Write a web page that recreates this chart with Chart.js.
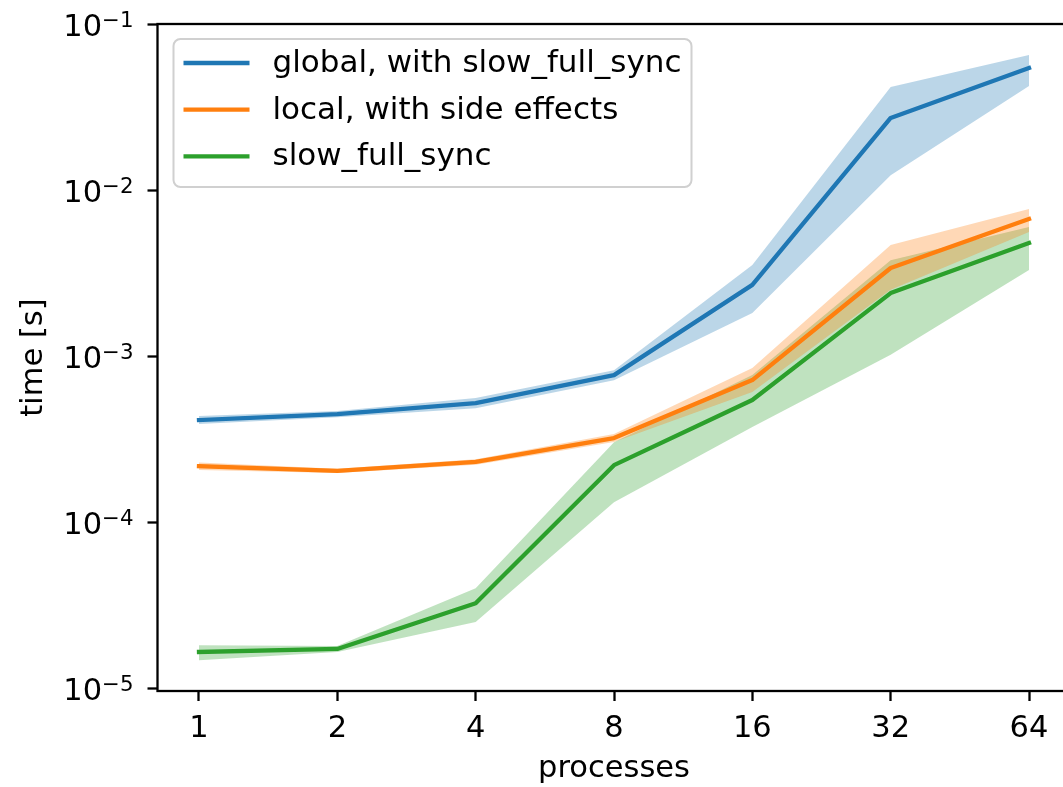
<!DOCTYPE html>
<html><head><meta charset="utf-8">
<script src="https://cdn.jsdelivr.net/npm/chart.js@4"></script>
<style>
html,body{margin:0;padding:0;background:#fff;overflow:hidden;width:1063px;height:787px}
#wrap{position:absolute;left:0;top:0;width:1080px;height:787px}
</style>
</head><body><div id="wrap"><canvas id="c" width="1080" height="787"></canvas></div>
<script>
// ---- data ----
const processes = [1, 2, 4, 8, 16, 32, 64];
const yTickValues = [1e-5, 1e-4, 1e-3, 1e-2, 1e-1];
const yTickExponents = ['\u22125', '\u22124', '\u22123', '\u22122', '\u22121'];
const seriesNames = ['global, with slow_full_sync', 'local, with side effects', 'slow_full_sync'];

const globalMean = [4.13e-4, 4.49e-4, 5.22e-4, 7.70e-4, 2.69e-3, 2.72e-2, 5.43e-2];
const globalLow  = [3.91e-4, 4.30e-4, 4.87e-4, 7.18e-4, 1.82e-3, 1.23e-2, 4.24e-2];
const globalHigh = [4.37e-4, 4.68e-4, 5.60e-4, 8.25e-4, 3.54e-3, 4.18e-2, 6.50e-2];

const localMean = [2.18e-4, 2.04e-4, 2.31e-4, 3.22e-4, 7.19e-4, 3.40e-3, 6.70e-3];
const localLow  = [2.07e-4, 1.98e-4, 2.22e-4, 3.05e-4, 6.09e-4, 2.51e-3, 5.60e-3];
const localHigh = [2.29e-4, 2.10e-4, 2.40e-4, 3.40e-4, 8.49e-4, 4.67e-3, 7.69e-3];

const syncMean = [1.66e-5, 1.73e-5, 3.26e-5, 2.21e-4, 5.45e-4, 2.40e-3, 4.81e-3];
const syncLow  = [1.48e-5, 1.66e-5, 2.51e-5, 1.32e-4, 3.75e-4, 1.02e-3, 3.30e-3];
const syncHigh = [1.82e-5, 1.80e-5, 4.02e-5, 3.04e-4, 7.70e-4, 3.79e-3, 6.00e-3];

// ---- styling ----
const colors = ['#1f77b4', '#ff7f0e', '#2ca02c'];
const fills = ['rgba(31,119,180,0.3)', 'rgba(255,127,14,0.3)', 'rgba(44,160,44,0.3)'];
const FONT = 'DejaVu Sans';
const FS = 30.5;
const LEG_FS = 31;

function pts(ys) { return processes.map((p, i) => ({x: p, y: ys[i]})); }

const bands = [[globalLow, globalHigh], [localLow, localHigh], [syncLow, syncHigh]];
const means = [globalMean, localMean, syncMean];

const datasets = [];
bands.forEach((b, k) => {
  datasets.push({label: '_lo' + k, data: pts(b[0]), borderWidth: 0, pointRadius: 0, fill: false, order: 10 + k});
  datasets.push({label: '_hi' + k, data: pts(b[1]), borderWidth: 0, pointRadius: 0, fill: '-1',
                 backgroundColor: fills[k], order: 10 + k});
});
means.forEach((m, k) => {
  datasets.push({label: seriesNames[k], data: pts(m), borderColor: colors[k], borderWidth: 4.3,
                 pointRadius: 0, fill: false, tension: 0, borderJoinStyle: 'round', borderCapStyle: 'square',
                 order: 2 - k});
});

const framePlugin = {
  id: 'frame',
  afterDatasetsDraw(chart) {
    const {ctx, chartArea: a} = chart;
    ctx.save();
    ctx.strokeStyle = '#000';
    ctx.lineWidth = 2.3;
    ctx.strokeRect(a.left, a.top, a.right - a.left, a.bottom - a.top);
    ctx.restore();
  }
};

// y tick labels as 10^n with a raised, smaller exponent (matplotlib style)
const yLabelPlugin = {
  id: 'yLabels',
  afterDraw(chart) {
    const {ctx} = chart;
    const ys = chart.scales.y;
    const right = ys.right - 10 - 14;
    const mainFont = FS + 'px "' + FONT + '"';
    const expFont = (FS * 0.7) + 'px "' + FONT + '"';
    ctx.save();
    ctx.fillStyle = '#000';
    ctx.textBaseline = 'alphabetic';
    ctx.textAlign = 'left';
    yTickValues.forEach((v, i) => {
      const py = ys.getPixelForValue(v);
      ctx.font = expFont;
      const ew = ctx.measureText(yTickExponents[i]).width;
      ctx.font = mainFont;
      const mw = ctx.measureText('10').width;
      const x0 = right - ew - mw;
      const base = py + 11.5;
      ctx.fillText('10', x0, base);
      ctx.font = expFont;
      ctx.fillText(yTickExponents[i], x0 + mw, base - 9);
    });
    ctx.restore();
  }
};

const legendPlugin = {
  id: 'mplLegend',
  afterDraw(chart) {
    const {ctx, chartArea: a} = chart;
    const x0 = a.left + 16, y0 = a.top + 15, w = 518, h = 148, r = 7;
    ctx.save();
    ctx.beginPath();
    ctx.moveTo(x0 + r, y0);
    ctx.lineTo(x0 + w - r, y0); ctx.arcTo(x0 + w, y0, x0 + w, y0 + r, r);
    ctx.lineTo(x0 + w, y0 + h - r); ctx.arcTo(x0 + w, y0 + h, x0 + w - r, y0 + h, r);
    ctx.lineTo(x0 + r, y0 + h); ctx.arcTo(x0, y0 + h, x0, y0 + h - r, r);
    ctx.lineTo(x0, y0 + r); ctx.arcTo(x0, y0, x0 + r, y0, r);
    ctx.closePath();
    ctx.fillStyle = 'rgba(255,255,255,0.8)';
    ctx.fill();
    ctx.strokeStyle = '#d0d0d0';
    ctx.lineWidth = 2;
    ctx.stroke();
    ctx.font = LEG_FS + 'px "' + FONT + '"';
    ctx.textBaseline = 'middle';
    ctx.textAlign = 'left';
    seriesNames.forEach((name, k) => {
      const y = y0 + 24 + k * 46.7;
      ctx.strokeStyle = colors[k];
      ctx.lineWidth = 4.3;
      ctx.lineCap = 'butt';
      ctx.beginPath(); ctx.moveTo(x0 + 10, y); ctx.lineTo(x0 + 76, y); ctx.stroke();
      ctx.fillStyle = '#000';
      ctx.fillText(name, x0 + 99, y + 1);
    });
    ctx.restore();
  }
};

new Chart(document.getElementById('c'), {
  type: 'line',
  data: {datasets},
  options: {
    responsive: false,
    animation: false,
    layout: {padding: {left: 0, top: 24, right: 9.5, bottom: 0}},
    plugins: {
      legend: {display: false},
      tooltip: {enabled: false},
      filler: {drawTime: 'beforeDatasetsDraw'}
    },
    scales: {
      x: {
        type: 'logarithmic',
        min: Math.pow(2, -0.3),
        max: 64 * Math.pow(2, 0.3),
        afterBuildTicks(s) { s.ticks = processes.map(v => ({value: v})); },
        afterFit(s) { s.height = 96; s.paddingLeft = 0; s.paddingRight = 0; },
        ticks: {
          callback: (v) => String(v),
          color: '#000', font: {family: FONT, size: FS}, padding: 10, maxRotation: 0, autoSkip: false
        },
        grid: {display: true, drawOnChartArea: false, drawTicks: true, tickLength: 10, tickWidth: 2.3, tickColor: '#000'},
        border: {display: false},
        title: {display: true, text: 'processes', color: '#000', font: {family: FONT, size: FS}, padding: {top: 0, bottom: 0}}
      },
      y: {
        type: 'logarithmic',
        min: Math.pow(10, -5.015),
        max: 0.1,
        afterBuildTicks(s) { s.ticks = yTickValues.map(v => ({value: v})); },
        afterFit(s) { s.width = 157.5; s.paddingTop = 0; s.paddingBottom = 0; },
        ticks: {display: false, autoSkip: false},
        grid: {display: true, drawOnChartArea: false, drawTicks: true, tickLength: 10, tickWidth: 2.3, tickColor: '#000'},
        border: {display: false},
        title: {display: true, text: 'time [s]', color: '#000', font: {family: FONT, size: FS}, padding: {top: 16, bottom: 0}}
      }
    }
  },
  plugins: [framePlugin, yLabelPlugin, legendPlugin]
});
</script>
</body></html>
